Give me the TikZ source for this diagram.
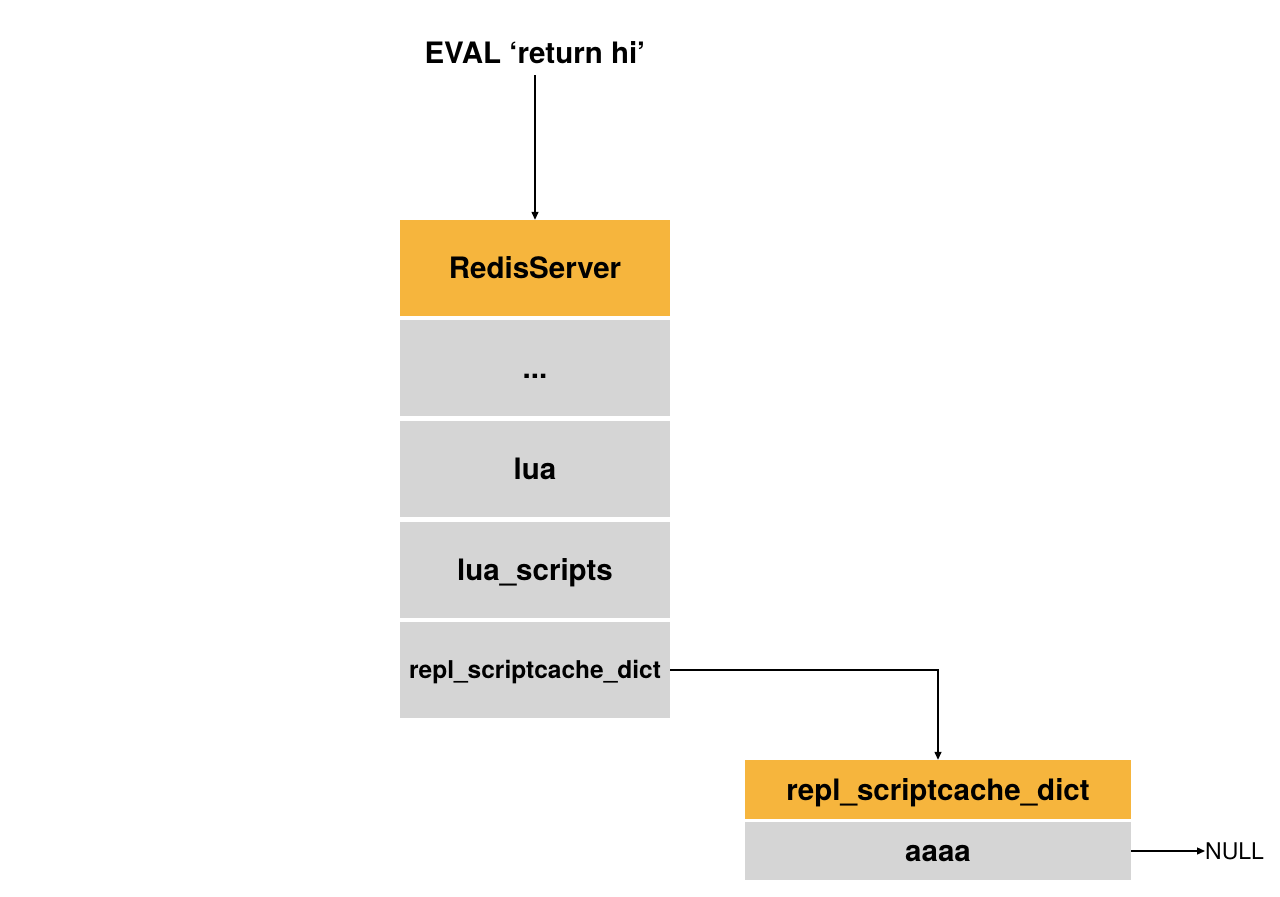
\documentclass[tikz,border=0pt]{standalone}
\usepackage{fontspec}
\setmainfont{TeX Gyre Heros}
\usetikzlibrary{arrows.meta}
\definecolor{hdr}{HTML}{F6B53D}
\definecolor{cell}{HTML}{D5D5D5}
\tikzset{
  bigtext/.style={font=\fontsize{29.5}{32}\selectfont\bfseries, text height=21.2pt, text depth=0pt},
  cellbox/.style={bigtext, fill=cell, draw=none, inner sep=0pt},
  hdrbox/.style={cellbox, fill=hdr},
  conn/.style={line width=1.3pt, -{Triangle[length=8pt,width=7pt]}},
}
\begin{document}
\begin{tikzpicture}[x=1pt,y=-1pt]
\useasboundingbox[fill=white] (0,0) rectangle (1280,897);
\node[bigtext, inner sep=0pt] (eval) at (535,53) {EVAL ‘return hi’};
\node[hdrbox, minimum width=270pt, minimum height=96pt] (rs) at (535,268) {RedisServer};
\node[cellbox, minimum width=270pt, minimum height=96pt] (dots) at (535,368) {...};
\node[cellbox, minimum width=270pt, minimum height=96pt] (lua) at (535,469) {lua};
\node[cellbox, minimum width=270pt, minimum height=96pt] (luas) at (535,570) {lua\_scripts};
\node[cellbox, minimum width=270pt, minimum height=96pt, font=\fontsize{24.5}{28}\selectfont\bfseries, text height=17.6pt] (repl) at (535,670) {repl\_scriptcache\_dict};
\node[hdrbox, minimum width=386pt, minimum height=59pt] (dict) at (938,789.5) {repl\_scriptcache\_dict};
\node[cellbox, minimum width=386pt, minimum height=58pt] (aaaa) at (938,851) {aaaa};
\node[font=\fontsize{23}{26}\selectfont, text height=16.5pt, text depth=0pt, anchor=west, inner sep=0pt] (null) at (1205,851) {NULL};
\draw[conn] (535,75) -- (rs.north);
\draw[conn] (repl.east) -- (dict.north |- repl.east) -- (dict.north);
\draw[conn] (aaaa.east) -- (null.west);
\end{tikzpicture}
\end{document}
